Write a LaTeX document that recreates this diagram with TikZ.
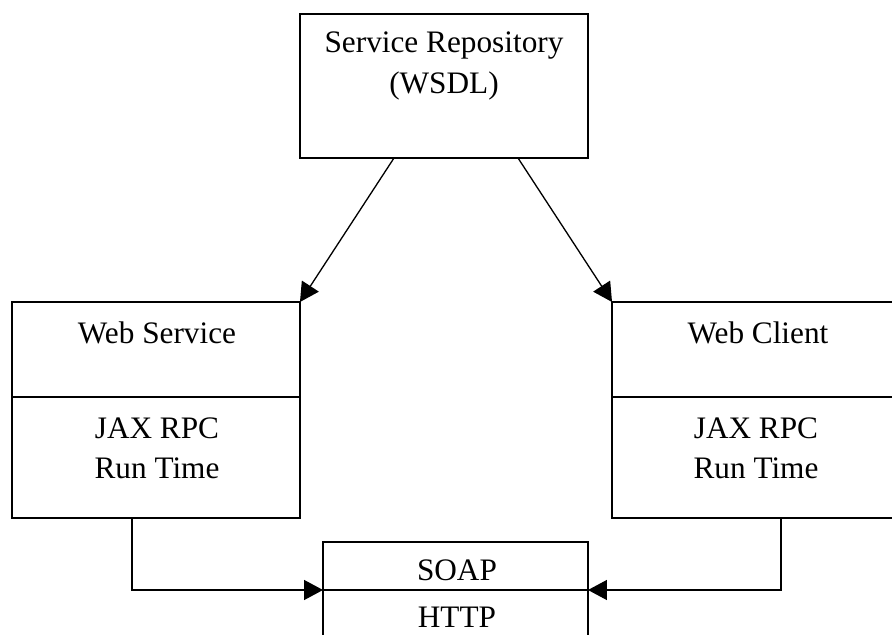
\documentclass[tikz,border=0pt]{standalone}
\usepackage{fontspec}
\setmainfont{Liberation Serif}
\usetikzlibrary{positioning,arrows.meta,calc}

\tikzset{
    box/.style={draw, line width=0.75pt, inner sep=0pt, outer sep=0pt},
    boxtext/.style={align=center, inner sep=0pt, font=\fontsize{17.8}{23}\selectfont},
    link/.style={->, line width=0.75pt},
}

\begin{document}
\begin{tikzpicture}[x=0.02cm, y=-0.02cm, >={Triangle[length=0.38cm, width=0.4cm]}]

    % Cadre de l'image (la boite Web Client et HTTP sont coupees)
    \useasboundingbox (0,0) rectangle (892,635);
    \clip (0,0) rectangle (892,635);

    % =========================================================================
    % SERVICE REPOSITORY
    % =========================================================================
    \node[box, minimum width=5.76cm, minimum height=2.88cm] (repo) at (444,86) {};
    \node[boxtext] (repotxt) at (444,66) {Service Repository\\(WSDL)};

    % =========================================================================
    % WEB SERVICE
    % =========================================================================
    \node[box, minimum width=5.76cm, minimum height=1.9cm] (ws) at (156,349.5) {};
    \node[box, minimum width=5.76cm, minimum height=2.42cm] (wsrt) at (156,457.5) {};
    \node[boxtext] (wstxt) at (157,333) {Web Service};
    \node[boxtext] (wsrttxt) at (157,448) {JAX RPC\\Run Time};

    % =========================================================================
    % WEB CLIENT
    % =========================================================================
    \node[box, minimum width=5.84cm, minimum height=1.9cm] (wc) at (758,349.5) {};
    \node[box, minimum width=5.84cm, minimum height=2.42cm] (wcrt) at (758,457.5) {};
    \node[boxtext] (wctxt) at (758,333) {Web Client};
    \node[boxtext] (wcrttxt) at (756,448) {JAX RPC\\Run Time};

    % =========================================================================
    % SOAP / HTTP
    % =========================================================================
    \node[box, minimum width=5.3cm, minimum height=0.96cm] (soap) at (455.5,566) {};
    \node[box, minimum width=5.3cm, minimum height=1.2cm] (http) at (455.5,620) {};
    \node[boxtext] (soaptxt) at (457,570) {SOAP};
    \node[boxtext] (httptxt) at (457,617) {HTTP};

    % Liens
    \draw[link] ([xshift=-1cm]repo.south) -- (ws.north east);
    \draw[link] ([xshift=1.48cm]repo.south) -- (wc.north west);
    \draw[link] ([xshift=-0.48cm]wsrt.south) |- (soap.south west);
    \draw[link] ([xshift=0.46cm]wcrt.south) |- (soap.south east);

\end{tikzpicture}
\end{document}
